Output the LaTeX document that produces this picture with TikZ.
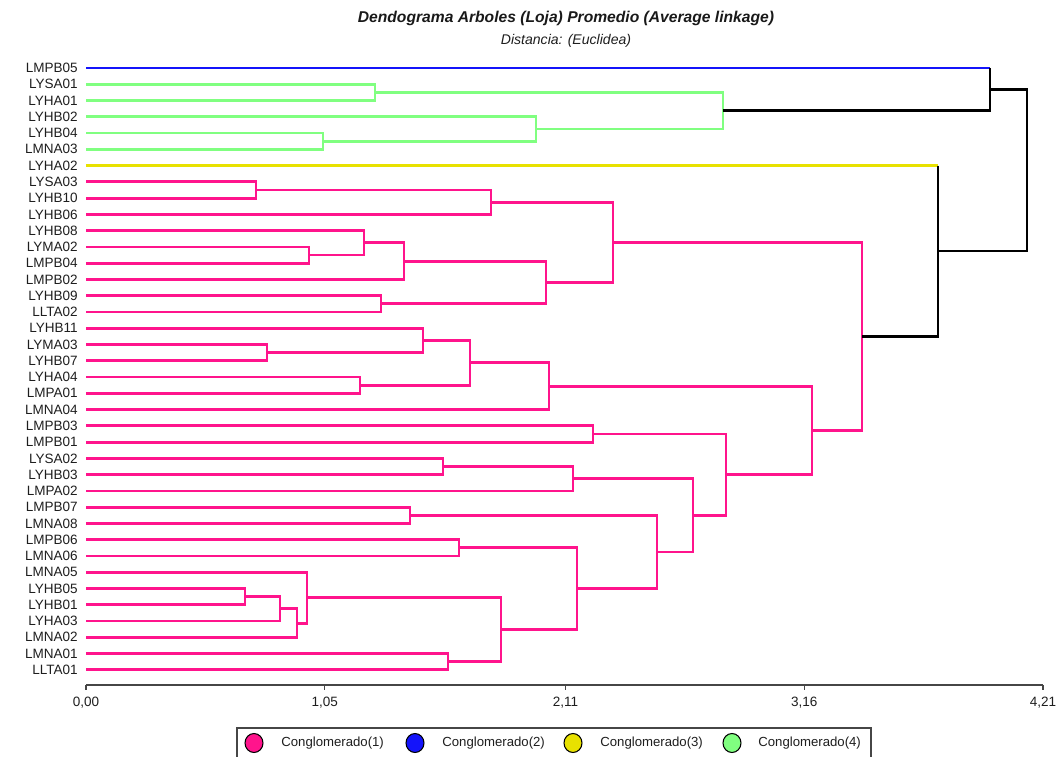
\documentclass[tikz,border=0pt]{standalone}
\usepackage{fontspec}
\setmainfont{Liberation Sans}
\usetikzlibrary{calc,shapes.geometric}
\definecolor{cpink}{RGB}{255,20,140}
\definecolor{cblue}{RGB}{20,20,250}
\definecolor{cyellow}{RGB}{232,225,0}
\definecolor{cgreen}{RGB}{128,255,128}
\definecolor{caxis}{RGB}{70,70,70}
\definecolor{ctext}{RGB}{30,30,30}
\begin{document}
\begin{tikzpicture}[x=0.02cm,y=-0.02cm,
  lab/.style={font=\fontsize{7.7}{9}\selectfont, anchor=east, inner sep=0pt, text=ctext},
  ticklab/.style={font=\fontsize{7.7}{9}\selectfont, anchor=center, inner sep=0pt, text=ctext},
  legtext/.style={font=\fontsize{7.5}{9}\selectfont, anchor=west, inner sep=0pt, text=ctext},
  legdot/.style={ellipse, draw=black, line width=0.6pt, minimum width=0.36cm, minimum height=0.38cm, inner sep=0pt},
  br/.style={line width=1.6pt, line join=miter},
  pk/.style={br, draw=cpink},
  gr/.style={br, draw=cgreen},
  bk/.style={br, draw=black},
  bl/.style={br, draw=cblue},
  yl/.style={br, draw=cyellow},
  axisline/.style={line width=0.8pt, draw=caxis}]
\useasboundingbox (0,0) rectangle (1062,757);
% titles
\node[font=\fontsize{8.9}{10}\selectfont\bfseries\itshape, text=black!90] (title) at (566,18) {Dendograma Arboles (Loja) Promedio (Average linkage)};
\node[font=\fontsize{8}{10}\selectfont\itshape, text=ctext] (subtitle) at (566,41) {Distancia: (Euclidea)};

\begin{scope}[shift={(0,68)}, y=-0.3254cm]
% leaves
\foreach \n [count=\i from 0] in {LMPB05,LYSA01,LYHA01,LYHB02,LYHB04,LMNA03,LYHA02,LYSA03,LYHB10,LYHB06,LYHB08,LYMA02,LMPB04,LMPB02,LYHB09,LLTA02,LYHB11,LYMA03,LYHB07,LYHA04,LMPA01,LMNA04,LMPB03,LMPB01,LYSA02,LYHB03,LMPA02,LMPB07,LMNA08,LMPB06,LMNA06,LMNA05,LYHB05,LYHB01,LYHA03,LMNA02,LMNA01,LLTA01}{
  \node[lab] (t\n) at (78,\i) {\n};
  \coordinate (\n) at (86,\i);
}
% merge points
\coordinate (g1) at (375,1.5);
\coordinate (g2) at (323,4.5);
\coordinate (g3) at (536,3.75);
\coordinate (g4) at (723,2.625);
\coordinate (b1) at (990,1.3125);
\coordinate (p1) at (256,7.5);
\coordinate (p2) at (491,8.25);
\coordinate (p3) at (309,11.5);
\coordinate (p4) at (364,10.75);
\coordinate (p5) at (404,11.875);
\coordinate (p6) at (381,14.5);
\coordinate (p7) at (546,13.1875);
\coordinate (p8) at (613,10.71875);
\coordinate (q1) at (267,17.5);
\coordinate (q2) at (423,16.75);
\coordinate (q3) at (360,19.5);
\coordinate (q4) at (470,18.125);
\coordinate (q5) at (549,19.5625);
\coordinate (q6) at (593,22.5);
\coordinate (q7) at (443,24.5);
\coordinate (q8) at (573,25.25);
\coordinate (q9) at (410,27.5);
\coordinate (q10) at (459,29.5);
\coordinate (q11) at (245,32.5);
\coordinate (q12) at (280,33.25);
\coordinate (q13) at (297,34.125);
\coordinate (q14) at (307,32.5625);
\coordinate (q15) at (448,36.5);
\coordinate (q16) at (501,34.53125);
\coordinate (q17) at (577,32.015625);
\coordinate (q18) at (657,29.7578);
\coordinate (q19) at (693,27.5039);
\coordinate (q20) at (726,25.00195);
\coordinate (q21) at (812,22.2822);
\coordinate (pr) at (862,16.5005);
\coordinate (y1) at (938,11.2502);
\coordinate (rt) at (1027,6.2814);

% green cluster
\draw[gr] (LYSA01) -| (g1);
\draw[gr] (LYHA01) -| (g1);
\draw[gr] (LYHB04) -| (g2);
\draw[gr] (LMNA03) -| (g2);
\draw[gr] (LYHB02) -| (g3);
\draw[gr] (g2) -| (g3);
\draw[gr] (g1) -| (g4);
\draw[gr] (g3) -| (g4);
% blue + green
\draw[bl] (LMPB05) -- (LMPB05 -| b1);
\draw[bk] (LMPB05 -| b1) -- (b1);
\draw[bk] (g4) -| (b1);
% pink top
\draw[pk] (LYSA03) -| (p1);
\draw[pk] (LYHB10) -| (p1);
\draw[pk] (p1) -| (p2);
\draw[pk] (LYHB06) -| (p2);
\draw[pk] (LYMA02) -| (p3);
\draw[pk] (LMPB04) -| (p3);
\draw[pk] (LYHB08) -| (p4);
\draw[pk] (p3) -| (p4);
\draw[pk] (p4) -| (p5);
\draw[pk] (LMPB02) -| (p5);
\draw[pk] (LYHB09) -| (p6);
\draw[pk] (LLTA02) -| (p6);
\draw[pk] (p5) -| (p7);
\draw[pk] (p6) -| (p7);
\draw[pk] (p2) -| (p8);
\draw[pk] (p7) -| (p8);
% pink bottom
\draw[pk] (LYMA03) -| (q1);
\draw[pk] (LYHB07) -| (q1);
\draw[pk] (LYHB11) -| (q2);
\draw[pk] (q1) -| (q2);
\draw[pk] (LYHA04) -| (q3);
\draw[pk] (LMPA01) -| (q3);
\draw[pk] (q2) -| (q4);
\draw[pk] (q3) -| (q4);
\draw[pk] (q4) -| (q5);
\draw[pk] (LMNA04) -| (q5);
\draw[pk] (LMPB03) -| (q6);
\draw[pk] (LMPB01) -| (q6);
\draw[pk] (LYSA02) -| (q7);
\draw[pk] (LYHB03) -| (q7);
\draw[pk] (q7) -| (q8);
\draw[pk] (LMPA02) -| (q8);
\draw[pk] (LMPB07) -| (q9);
\draw[pk] (LMNA08) -| (q9);
\draw[pk] (LMPB06) -| (q10);
\draw[pk] (LMNA06) -| (q10);
\draw[pk] (LYHB05) -| (q11);
\draw[pk] (LYHB01) -| (q11);
\draw[pk] (q11) -| (q12);
\draw[pk] (LYHA03) -| (q12);
\draw[pk] (q12) -| (q13);
\draw[pk] (LMNA02) -| (q13);
\draw[pk] (LMNA05) -| (q14);
\draw[pk] (q13) -| (q14);
\draw[pk] (LMNA01) -| (q15);
\draw[pk] (LLTA01) -| (q15);
\draw[pk] (q14) -| (q16);
\draw[pk] (q15) -| (q16);
\draw[pk] (q10) -| (q17);
\draw[pk] (q16) -| (q17);
\draw[pk] (q9) -| (q18);
\draw[pk] (q17) -| (q18);
\draw[pk] (q8) -| (q19);
\draw[pk] (q18) -| (q19);
\draw[pk] (q6) -| (q20);
\draw[pk] (q19) -| (q20);
\draw[pk] (q5) -| (q21);
\draw[pk] (q20) -| (q21);
\draw[pk] (p8) -| (pr);
\draw[pk] (q21) -| (pr);
% yellow + pink
\draw[yl] (LYHA02) -- (LYHA02 -| y1);
\draw[bk] (LYHA02 -| y1) -- (y1);
\draw[bk] (pr) -| (y1);
% root
\draw[bk] (b1) -| (rt);
\draw[bk] (y1) -| (rt);
\end{scope}

% axis
\coordinate (ax0) at (86,685);
\coordinate (ax1) at (1043,685);
\draw[axisline] (ax0) -- (ax1);
\foreach \xx/\tl [count=\k] in {86/{0,00},324.7/{1,05},565.6/{2,11},804.3/{3,16},1043/{4,21}}{
  \draw[axisline] (\xx,685) -- (\xx,690);
  \node[ticklab] (tick\k) at (\xx,703) {\tl};
}

% legend
\coordinate (lg0) at (237,757);
\coordinate (lg1) at (237,728);
\coordinate (lg2) at (871,728);
\coordinate (lg3) at (871,757);
\draw[line width=0.8pt, draw=caxis] (lg0) -- (lg1) -- (lg2) -- (lg3);
\node[legdot, fill=cpink] (d1) at (254,743) {};
\node[legtext] (l1) at (281,743) {Conglomerado(1)};
\node[legdot, fill=cblue] (d2) at (415,743) {};
\node[legtext] (l2) at (442,743) {Conglomerado(2)};
\node[legdot, fill=cyellow] (d3) at (573,743) {};
\node[legtext] (l3) at (600,743) {Conglomerado(3)};
\node[legdot, fill=cgreen] (d4) at (732,743) {};
\node[legtext] (l4) at (758,743) {Conglomerado(4)};
\end{tikzpicture}
\end{document}
